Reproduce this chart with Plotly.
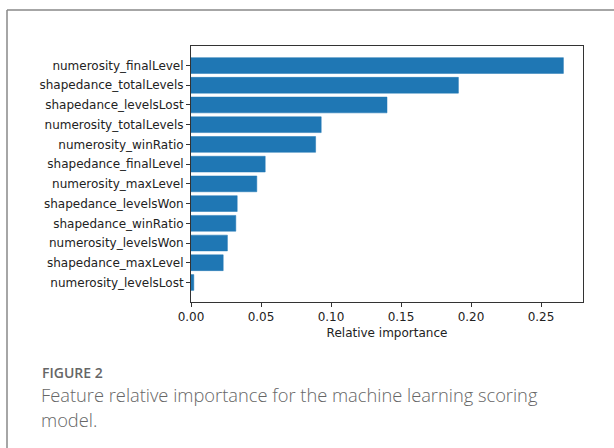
import plotly.graph_objects as go

features = [
    "numerosity_finalLevel", "shapedance_totalLevels", "shapedance_levelsLost",
    "numerosity_totalLevels", "numerosity_winRatio", "shapedance_finalLevel",
    "numerosity_maxLevel", "shapedance_levelsWon", "shapedance_winRatio",
    "numerosity_levelsWon", "shapedance_maxLevel", "numerosity_levelsLost",
]
importance = [0.266, 0.191, 0.140, 0.093, 0.089, 0.053, 0.047, 0.033, 0.032, 0.026, 0.023, 0.002]
x_ticks = [0.0, 0.05, 0.10, 0.15, 0.20, 0.25]
x_tick_labels = ["0.00", "0.05", "0.10", "0.15", "0.20", "0.25"]
caption_label = "FIGURE 2"
caption_lines = ["Feature relative importance for the machine learning scoring", "model."]

W, H = 614, 448
L, R, T, B = 191, 583, 46, 302

def px(x):
    return (x - L) / (R - L)

def py(y):
    return (B - y) / (B - T)

fig = go.Figure(go.Bar(
    x=importance[::-1], y=features[::-1], orientation="h",
    marker=dict(color="#1f77b4", line=dict(color="#1f77b4", width=0.5)),
    width=0.8,
))

cap_font = dict(family="Open Sans", size=18.3, color="#666", weight=300)

fig.update_layout(
    width=W, height=H,
    margin=dict(l=L, r=W - R, t=T, b=H - B),
    paper_bgcolor="white", plot_bgcolor="white",
    showlegend=False,
    font=dict(family="DejaVu Sans", size=12, color="#222"),
    xaxis=dict(
        range=[0, 0.28], tickvals=x_ticks, ticktext=x_tick_labels,
        showgrid=False, zeroline=False, showline=True, linecolor="#333", linewidth=1,
        mirror=True, ticks="outside", ticklen=4, tickcolor="#333",
        tickfont=dict(size=12),
        title=dict(text="Relative importance", font=dict(size=12), standoff=5),
    ),
    yaxis=dict(
        range=[-0.99, 11.99], showgrid=False, zeroline=False, showline=True,
        linecolor="#333", linewidth=1, mirror=True, ticks="outside", ticklen=4,
        tickcolor="#333", tickfont=dict(size=12),
    ),
    shapes=[
        dict(type="line", xref="paper", yref="paper", x0=px(7), x1=px(7), y0=py(10), y1=py(H + 5),
             line=dict(color="#888", width=1.5)),
        dict(type="line", xref="paper", yref="paper", x0=px(7), x1=px(W + 5), y0=py(10), y1=py(10),
             line=dict(color="#888", width=1.5)),
    ],
    annotations=[
        dict(text=caption_label, xref="paper", yref="paper", x=px(40), y=py(372),
             xanchor="left", yanchor="middle", showarrow=False,
             font=dict(family="Open Sans", size=14, color="#666", weight=600)),
        dict(text=caption_lines[0], xref="paper", yref="paper", x=px(39), y=py(394),
             xanchor="left", yanchor="middle", showarrow=False, font=cap_font),
        dict(text=caption_lines[1], xref="paper", yref="paper", x=px(39), y=py(419),
             xanchor="left", yanchor="middle", showarrow=False, font=cap_font),
    ],
)

fig.write_html("out.html")
